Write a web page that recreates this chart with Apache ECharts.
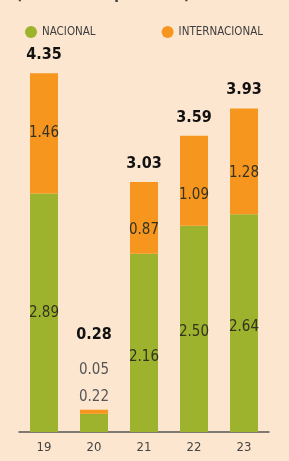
<!DOCTYPE html>
<html>
<head>
<meta charset="utf-8">
<script src="https://cdn.jsdelivr.net/npm/echarts@6/dist/echarts.min.js"></script>
<style>
  html, body { margin: 0; padding: 0; background: #fde6cf; }
  #chart { width: 289px; height: 461px; }
</style>
</head>
<body>
<div id="chart"></div>
<script>
const years = ["19", "20", "21", "22", "23"];
const nacional = [2.89, 0.22, 2.16, 2.50, 2.64];
const internacional = [1.46, 0.05, 0.87, 1.09, 1.28];
const totals = [4.35, 0.28, 3.03, 3.59, 3.93];

const FONT = "'Liberation Sans Narrow', 'DejaVu Sans Condensed', 'Roboto Condensed', sans-serif";
const GREEN = "#9db22d";
const ORANGE = "#f7961f";

// small nudges of the in-bar labels, like the print layout
const greenNudge = [0, 0, 14, 3, 4];
const orangeNudge = [0, 0, 12, 14, 12];

const chart = echarts.init(document.getElementById("chart"));

chart.setOption({
  backgroundColor: "#fde6cf",
  animation: false,
  graphic: [{
    type: "text",
    left: 16,
    top: -12,
    style: {
      text: "(millones de personas)",
      font: "bold 15px " + FONT,
      fill: "#3a3a3a",
    },
  }],
  legend: {
    top: 21,
    left: 20,
    itemGap: 66,
    icon: "circle",
    itemWidth: 12,
    itemHeight: 12,
    textStyle: { fontFamily: FONT, fontSize: 11.5, color: "#3f3f3f" },
    data: ["NACIONAL", "INTERNACIONAL"],
  },
  grid: { left: 19, right: 20, top: 19.5, bottom: 29 },
  xAxis: {
    type: "category",
    data: years,
    axisTick: { show: false },
    axisLine: { lineStyle: { color: "#555", width: 1.5 } },
    axisLabel: { fontFamily: FONT, fontSize: 13, color: "#444", margin: 9 },
  },
  yAxis: {
    type: "value",
    min: 0,
    max: 5,
    show: false,
  },
  series: [
    {
      name: "NACIONAL",
      type: "bar",
      stack: "t",
      barWidth: 28,
      itemStyle: { color: GREEN },
      data: nacional.map((v, i) => ({
        value: v,
        label: i === 1
          ? { position: "top", distance: 9, color: "#555" }
          : { position: "inside", offset: [0, greenNudge[i]] },
      })),
      label: {
        show: true,
        fontFamily: FONT,
        fontSize: 15,
        color: "#33331f",
        formatter: (p) => p.value.toFixed(2),
      },
    },
    {
      name: "INTERNACIONAL",
      type: "bar",
      stack: "t",
      barWidth: 28,
      itemStyle: { color: ORANGE },
      data: internacional.map((v, i) => ({
        value: v,
        label: i === 1
          ? { position: "top", distance: 32, color: "#555" }
          : { position: "inside", offset: [0, orangeNudge[i]] },
      })),
      label: {
        show: true,
        fontFamily: FONT,
        fontSize: 15,
        color: "#33331f",
        formatter: (p) => p.value.toFixed(2),
      },
    },
    {
      name: "total",
      type: "scatter",
      symbolSize: 0,
      silent: true,
      itemStyle: { opacity: 1 },
      data: totals.map((v, i) => ({
        value: [years[i], v],
        label: { distance: i === 1 ? 66 : 10 },
      })),
      label: {
        show: true,
        position: "top",
        fontFamily: FONT,
        fontSize: 16,
        fontWeight: "bold",
        color: "#111",
        opacity: 1,
        formatter: (p) => p.value[1].toFixed(2),
      },
    },
  ],
});
</script>
</body>
</html>
